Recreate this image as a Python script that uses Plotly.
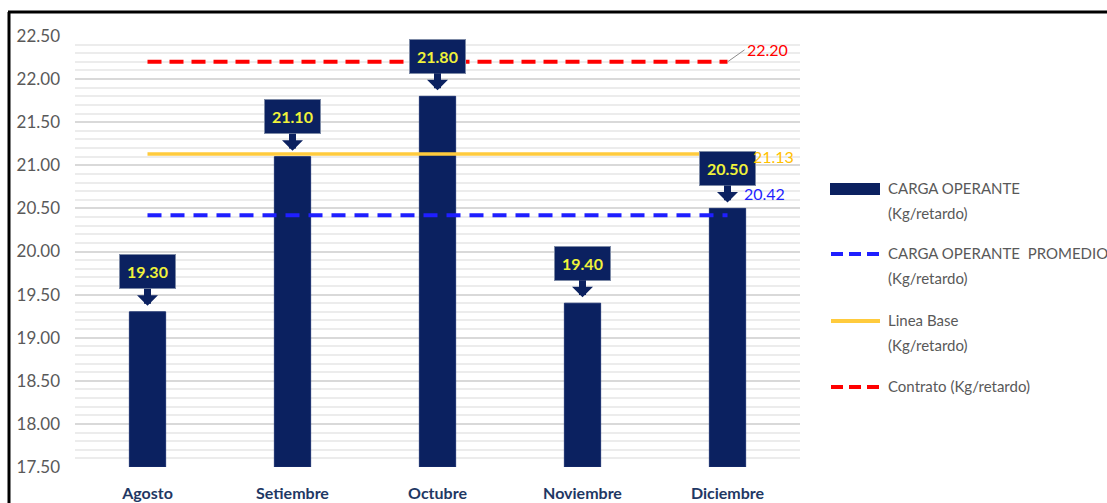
import plotly.graph_objects as go

# Monthly operating load per delay (Kg/retardo)
meses = ["Agosto", "Setiembre", "Octubre", "Noviembre", "Diciembre"]
carga_operante = [19.30, 21.10, 21.80, 19.40, 20.50]
carga_promedio = 20.42
linea_base = 21.13
contrato = 22.20

y_ticks = [17.50, 18.00, 18.50, 19.00, 19.50, 20.00, 20.50, 21.00, 21.50, 22.00, 22.50]

NAVY = "#0b2160"
BLUE = "#1f1fff"
GOLD = "#ffcb3d"
RED = "#ff0000"
GRAY_TXT = "#595959"
FONT = "Lato, Open Sans, sans-serif"

W, H = 1107, 503
L, R, T, B = 75, 307, 36, 36


def paper_x(px):
    return (px - L) / (W - L - R)


def paper_y(py):
    return (H - B - py) / (H - T - B)


fig = go.Figure()

fig.add_trace(go.Bar(
    x=meses, y=[v - y_ticks[0] for v in carga_operante], base=y_ticks[0],
    width=0.25, marker=dict(color=NAVY, line=dict(color="#1a2f6e", width=1)),
    showlegend=False, hoverinfo="skip",
))

fig.add_trace(go.Scatter(
    x=meses, y=[linea_base] * len(meses), mode="lines",
    line=dict(color=GOLD, width=3.5), showlegend=False, hoverinfo="skip",
))
fig.add_trace(go.Scatter(
    x=meses, y=[carga_promedio] * len(meses), mode="lines",
    line=dict(color=BLUE, width=4, dash="14px,9px"), showlegend=False, hoverinfo="skip",
))
fig.add_trace(go.Scatter(
    x=meses, y=[contrato] * len(meses), mode="lines",
    line=dict(color=RED, width=4, dash="14px,8px"), showlegend=False, hoverinfo="skip",
))

annotations = []

# Callout boxes above each bar
for m, v in zip(meses, carga_operante):
    annotations.append(dict(
        x=m, y=v, xref="x", yref="y",
        text=f"<b>{v:.2f}</b>",
        font=dict(family=FONT, size=16, color="#f0f23a"),
        bgcolor=NAVY, bordercolor="#7d8aa6", borderwidth=1, borderpad=7,
        showarrow=True, arrowhead=1, arrowwidth=7, arrowsize=0.5,
        arrowcolor=NAVY, ax=0, ay=-40, standoff=6,
    ))

# Reference line values at the right end
annotations.append(dict(
    x="Diciembre", y=contrato, xref="x", yref="y",
    text=f"{contrato:.2f}", font=dict(family=FONT, size=16, color=RED),
    showarrow=True, arrowhead=0, arrowwidth=1, arrowcolor="#8c8c8c",
    ax=17, ay=-12, xanchor="left", yanchor="middle",
))
annotations.append(dict(
    x="Diciembre", y=linea_base, xref="x", yref="y",
    text=f"{linea_base:.2f}", font=dict(family=FONT, size=16, color="#ffc000"),
    showarrow=False, xanchor="left", yanchor="middle", xshift=23, yshift=-2,
))
annotations.append(dict(
    x="Diciembre", y=carga_promedio, xref="x", yref="y",
    text=f"{carga_promedio:.2f}", font=dict(family=FONT, size=16, color=BLUE),
    showarrow=False, xanchor="left", yanchor="middle", xshift=14, yshift=22,
))

# Legend drawn beside the plot area
shapes = []
legend_items = [
    ("bar", NAVY, None, 189, ["CARGA OPERANTE", "(Kg/retardo)"]),
    ("line", BLUE, "dash", 254, ["CARGA OPERANTE\u00a0 PROMEDIO", "(Kg/retardo)"]),
    ("line", GOLD, None, 321, ["Linea Base", "(Kg/retardo)"]),
    ("line", RED, "dash", 387, ["Contrato (Kg/retardo)"]),
]
for kind, color, dash, yy, lines in legend_items:
    if kind == "bar":
        shapes.append(dict(
            type="rect", xref="paper", yref="paper",
            x0=paper_x(830), x1=paper_x(880), y0=paper_y(yy + 6), y1=paper_y(yy - 6),
            fillcolor=color, line=dict(width=0),
        ))
    else:
        shapes.append(dict(
            type="line", xref="paper", yref="paper",
            x0=paper_x(831), x1=paper_x(880), y0=paper_y(yy), y1=paper_y(yy),
            line=dict(color=color, width=4, dash="12px,6px" if dash else "solid"),
        ))
    for i, txt in enumerate(lines):
        annotations.append(dict(
            x=paper_x(886), y=paper_y(yy - 1 + 25 * i), xref="paper", yref="paper",
            text=txt, showarrow=False, xanchor="left", yanchor="middle",
            font=dict(family=FONT, size=15, color=GRAY_TXT),
        ))

# Frame lines (left and top)
shapes.append(dict(type="line", xref="paper", yref="paper",
                   x0=paper_x(9), x1=paper_x(9), y0=paper_y(12), y1=paper_y(520),
                   line=dict(color="black", width=3)))
shapes.append(dict(type="line", xref="paper", yref="paper",
                   x0=paper_x(8), x1=paper_x(1120), y0=paper_y(12), y1=paper_y(12),
                   line=dict(color="black", width=3)))

fig.update_layout(
    width=W, height=H,
    margin=dict(l=L, r=R, t=T, b=B, pad=0, autoexpand=False),
    plot_bgcolor="white", paper_bgcolor="white",
    font=dict(family=FONT),
    bargap=0.75,
    annotations=annotations,
    shapes=shapes,
    xaxis=dict(
        showgrid=False, showline=False, zeroline=False, automargin=False,
        tickfont=dict(family=FONT, size=16, color="#1f3864", weight="bold"),
        ticklabelstandoff=15, fixedrange=True,
    ),
    yaxis=dict(
        range=[y_ticks[0], y_ticks[-1]], tickvals=y_ticks,
        ticktext=[f"{v:.2f}" for v in y_ticks],
        tickfont=dict(family=FONT, size=17, color=GRAY_TXT),
        showgrid=True, gridcolor="#d9d9d9", gridwidth=1.5,
        minor=dict(dtick=0.1, showgrid=True, gridcolor="#ececec", gridwidth=1.5),
        zeroline=False, showline=False, ticklabelstandoff=14, fixedrange=True,
        automargin=False,
    ),
)

fig.write_html("out.html")
